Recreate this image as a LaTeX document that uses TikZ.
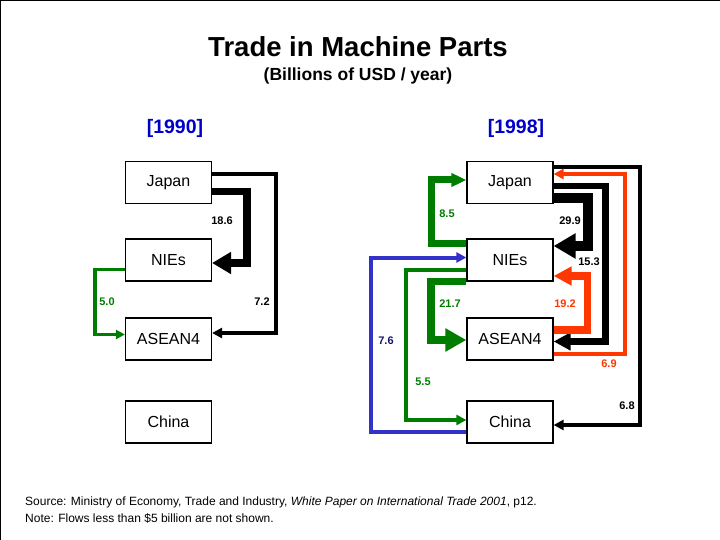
\documentclass[tikz,border=0pt]{standalone}
\usepackage{fontspec}
\setmainfont{Liberation Sans}
\usetikzlibrary{arrows.meta}
\definecolor{flowgreen}{RGB}{0,125,0}
\definecolor{flowred}{RGB}{255,55,0}
\definecolor{flowblue}{RGB}{50,50,200}
\definecolor{navy}{RGB}{20,20,110}
\definecolor{yearblue}{RGB}{0,0,200}

\begin{document}
\begin{tikzpicture}[x=1pt,y=-1pt]
    \pgfmathsetmacro{\colA}{168.5}
    \pgfmathsetmacro{\colB}{510}
    \tikzset{
        country/.style={draw, line width=1.2pt, minimum width=86pt, minimum height=42pt, inner sep=0pt, font=\fontsize{16}{16}\selectfont},
        flow/.style n args={3}{line width=#1, -{Triangle[length=#2,width=#3]}},
        val/.style={font=\bfseries\fontsize{11}{11}\selectfont, inner sep=0pt},
        year/.style={text=yearblue, font=\bfseries\fontsize{19.5}{19.5}\selectfont},
    }
    \useasboundingbox (0,0) rectangle (720,540);
    \draw[line width=2pt] (0,540) -- (0,0) -- (720,0);

    \node[font=\bfseries\fontsize{27.5}{27.5}\selectfont] (title) at (358,47) {Trade in Machine Parts};
    \node[font=\bfseries\fontsize{17.5}{17.5}\selectfont] (subtitle) at (358,76) {(Billions of USD / year)};
    \node[year] (yearA) at (175,128) {[1990]};
    \node[year] (yearB) at (516,128) {[1998]};

    \foreach \n/\txt/\y in {j/Japan/182.5, n/NIEs/260, a/ASEAN4/339, c/China/422}{
        \node[country] (\n A) at (\colA,\y) {\txt};
        \node[country] (\n B) at (\colB,\y) {\txt};
    }

    % 1990
    \draw[flow={7.5pt}{19pt}{21pt}] ([yshift=-9pt]jA.east) -- ++(35,0) |- ([yshift=-3pt]nA.east);
    \draw[flow={4pt}{10pt}{10pt}] ([yshift=8.5pt]jA.east) -- ++(63.5,0) |- ([yshift=6pt]aA.east);
    \draw[flowgreen, flow={3.5pt}{9pt}{9pt}] ([yshift=-9.5pt]nA.west) -- ++(-30,0) |- ([yshift=4.5pt]aA.west);

    % 1998
    \draw[flow={4pt}{10pt}{10pt}] ([yshift=15.5pt]jB.east) -- ++(86,0) |- ([yshift=-3pt]cB.east);
    \draw[flowred, flow={4pt}{10pt}{10pt}] ([yshift=-15pt]aB.east) -- ++(71,0) |- ([yshift=8.5pt]jB.east);
    \draw[flow={6.5pt}{17pt}{17pt}] ([yshift=-3.5pt]jB.east) -- ++(52,0) |- ([yshift=-2.5pt]aB.east);
    \draw[flow={10pt}{22pt}{24pt}] ([yshift=-15.5pt]jB.east) -- ++(34,0) |- ([yshift=14pt]nB.east);
    \draw[flowred, flow={7.5pt}{18pt}{18pt}] ([yshift=9pt]aB.east) -- ++(34,0) |- ([yshift=-16pt]nB.east);
    \draw[flowgreen, flow={7pt}{15pt}{13pt}] ([yshift=17pt]nB.west) -- ++(-35,0) |- ([yshift=2.5pt]jB.west);
    \draw[flowgreen, flow={7.5pt}{21pt}{22pt}] ([yshift=-21.5pt]nB.west) -- ++(-35.5,0) |- ([yshift=-1pt]aB.west);
    \draw[flowgreen, flow={4pt}{10pt}{10pt}] ([yshift=-10pt]nB.west) -- ++(-60,0) |- ([yshift=2pt]cB.west);
    \draw[flowblue, flow={4pt}{10pt}{10pt}] ([yshift=-9.5pt]cB.west) -- ++(-95,0) |- ([yshift=2.5pt]nB.west);

    % values
    \foreach \c/\x/\y/\t [count=\i] in {black/222/221/18.6, black/262/302/7.2, flowgreen/107/302/5.0,
        flowgreen/447/214/8.5, black/570/221/29.9, black/589/262/15.3, flowgreen/450/304/21.7,
        flowred/565/304/19.2, navy/386/341/7.6, flowred/609/364/6.9, flowgreen/423/382/5.5, black/627/406/6.8}{
        \node[val, text=\c] (val\i) at (\x,\y) {\t};
    }

    \node[anchor=west, inner sep=0pt, font=\fontsize{12}{12}\selectfont] (source) at (25,502)
        {Source: Ministry of Economy, Trade and Industry, \textit{White Paper on International Trade 2001}, p12.};
    \node[anchor=west, inner sep=0pt, font=\fontsize{12}{12}\selectfont] (note) at (25,518)
        {Note: Flows less than \$5 billion are not shown.};
\end{tikzpicture}
\end{document}
